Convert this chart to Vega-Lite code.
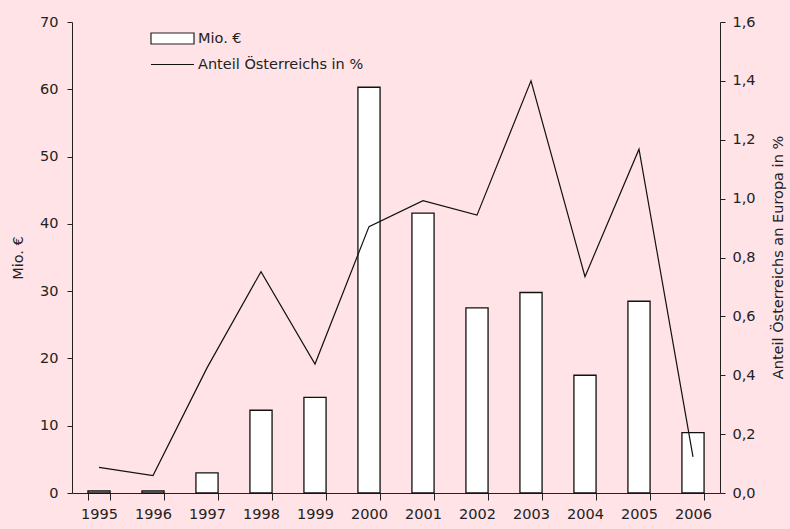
{
  "$schema": "https://vega.github.io/schema/vega-lite/v6.json",
  "width": 648,
  "height": 471,
  "autosize": {"type": "none"},
  "padding": {"left": 72, "top": 22, "right": 70, "bottom": 36},
  "background": "#FFE3E6",
  "config": {
    "view": {"stroke": null},
    "font": "DejaVu Sans",
    "axis": {"labelFont": "DejaVu Sans", "titleFont": "DejaVu Sans", "labelFontSize": 14.5, "titleFontSize": 14.5, "titleFontWeight": "normal", "labelColor": "#222", "titleColor": "#222", "domainColor": "#222", "tickColor": "#222", "grid": false},
    "legend": {"labelFont": "DejaVu Sans", "labelFontSize": 14.5, "labelColor": "#222", "labelLimit": 500}
  },
  "data": {
    "values": [
      {"Jahr": "1995", "mio": 0.3, "anteil": 0.087},
      {"Jahr": "1996", "mio": 0.3, "anteil": 0.059},
      {"Jahr": "1997", "mio": 3.0, "anteil": 0.425},
      {"Jahr": "1998", "mio": 12.3, "anteil": 0.752},
      {"Jahr": "1999", "mio": 14.2, "anteil": 0.438},
      {"Jahr": "2000", "mio": 60.3, "anteil": 0.905},
      {"Jahr": "2001", "mio": 41.6, "anteil": 0.993},
      {"Jahr": "2002", "mio": 27.5, "anteil": 0.944},
      {"Jahr": "2003", "mio": 29.8, "anteil": 1.40},
      {"Jahr": "2004", "mio": 17.5, "anteil": 0.735},
      {"Jahr": "2005", "mio": 28.5, "anteil": 1.168},
      {"Jahr": "2006", "mio": 8.96, "anteil": 0.123}
    ]
  },
  "encoding": {
    "x": {
      "field": "Jahr", "type": "nominal", "title": null,
      "scale": {"paddingInner": 0.59, "paddingOuter": 0.295},
      "axis": {"labelAngle": 0, "tickBand": "extent", "tickSize": 7, "labelPadding": 7, "domainWidth": 1}
    }
  },
  "layer": [
    {
      "mark": {"type": "bar", "stroke": "#111", "strokeWidth": 1.3},
      "encoding": {
        "y": {
          "field": "mio", "type": "quantitative", "title": "Mio. €",
          "scale": {"domain": [0, 70], "nice": false},
          "axis": {"values": [0, 10, 20, 30, 40, 50, 60, 70], "orient": "left", "tickSize": 5, "labelPadding": 9, "titlePadding": 14}
        },
        "fill": {
          "datum": "Mio. €", "type": "nominal",
          "scale": {"range": ["white"]},
          "legend": {"title": null, "orient": "none", "legendX": 78, "legendY": -6, "symbolType": "M-1,-0.256H1V0.256H-1Z", "symbolSize": 1849, "symbolStrokeColor": "#222", "symbolStrokeWidth": 1.2, "symbolFillColor": "white", "labelOffset": 3}
        }
      }
    },
    {
      "mark": {"type": "line", "color": "#111", "strokeWidth": 1.2},
      "encoding": {
        "y": {
          "field": "anteil", "type": "quantitative", "title": "Anteil Österreichs an Europa in %",
          "scale": {"domain": [0, 1.6], "nice": false},
          "axis": {"values": [0, 0.2, 0.4, 0.6, 0.8, 1.0, 1.2, 1.4, 1.6], "format": ".1f", "labelExpr": "replace(datum.label, '.', ',')", "orient": "right", "tickSize": 5, "labelPadding": 7, "titleAngle": -90, "titleX": 58, "titleY": 235, "titleAlign": "center", "titleBaseline": "middle"}
        },
        "stroke": {
          "datum": "Anteil Österreichs in %", "type": "nominal",
          "scale": {"range": ["#111"]},
          "legend": {"title": null, "orient": "none", "legendX": 78, "legendY": 20, "symbolType": "stroke", "symbolSize": 1849, "symbolStrokeWidth": 1.2, "labelOffset": 3}
        }
      }
    }
  ],
  "resolve": {"scale": {"y": "independent"}}
}
